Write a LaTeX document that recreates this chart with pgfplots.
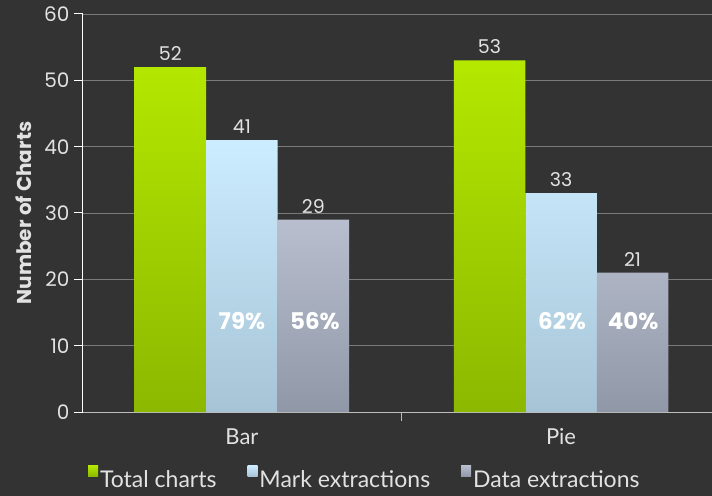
\documentclass[border=0pt]{standalone}
\usepackage{fontspec}
\setmainfont{Poppins}
\newfontfamily\legfont{Lato}
\usepackage{pgfplots}
\pgfplotsset{compat=1.18}
\usetikzlibrary{backgrounds}

\definecolor{bg}{HTML}{333333}
\definecolor{gridc}{HTML}{7A7A7A}
\definecolor{axc}{HTML}{BDBDBD}
\definecolor{txt}{HTML}{E2E2E2}
\definecolor{gtop}{HTML}{B4E800}
\definecolor{gbot}{HTML}{8CB800}
\definecolor{btop}{HTML}{CCECFF}
\definecolor{bbot}{HTML}{A6C4D6}
\definecolor{stop}{HTML}{B8BECE}
\definecolor{sbot}{HTML}{9098A8}

\newcommand{\fs}[1]{\fontsize{#1}{#1}\selectfont}

\begin{document}
\begin{tikzpicture}
\begin{axis}[
  at={(0,0)}, anchor=south west,
  scale only axis, width=629bp, height=398bp,
  xmin=-0.498, xmax=1.473, ymin=0, ymax=60,
  /pgf/number format/assume math mode=true,
  axis x line*=bottom, axis y line*=left,
  x axis line style={draw=axc, line width=1bp, -},
  y axis line style={draw=white, line width=1bp, -},
  ytick={0,10,...,60},
  ymajorgrids, grid style={draw=gridc, line width=0.8bp},
  ytick style={draw=white, line width=1bp},
  tick align=outside, major tick length=9bp,
  yticklabel style={font=\fs{20bp}, text=txt, xshift=-1bp},
  xtick={-0.5,0.5}, xticklabels={},
  xtick style={draw=axc, line width=1bp},
  extra x ticks={0,1}, extra x tick labels={Bar,Pie},
  extra x tick style={major tick length=0pt, grid=none,
     tick label style={font=\legfont\fs{22bp}, text=txt, yshift=-13bp}},
  ylabel={Number of Charts},
  every axis y label/.style={at={(axis description cs:0,0.5)}, xshift=-59bp,
     rotate=90, anchor=center, font=\bfseries\fs{20bp}, text=txt},
  ybar=0pt, bar width=71.5bp,
  nodes near coords,
  every node near coord/.append style={font=\fs{19bp}, text=txt, yshift=3bp},
  legend style={at={(axis description cs:0.448,-0.166)}, anchor=center,
     draw=none, fill=none, legend columns=-1, font=\legfont\fs{23bp}, text=txt,
     /tikz/every odd column/.append style={column sep=0bp},
     /tikz/every even column/.append style={column sep=29bp}},
  legend image code/.code={\fill[#1] (0bp,3bp) rectangle (10bp,14bp);},
]
\addplot[draw=none, top color=gtop, bottom color=gbot] coordinates {(0,52) (1,53)};
\addplot[draw=none, top color=btop, bottom color=bbot] coordinates {(0,41) (1,33)};
\addplot[draw=none, top color=stop, bottom color=sbot] coordinates {(0,29) (1,21)};
\legend{Total charts, Mark extractions, Data extractions}
\node[font=\bfseries\fs{23bp}, text=white] at (axis cs:0,13.7) {79\%};
\node[font=\bfseries\fs{23bp}, text=white, xshift=73bp] at (axis cs:0,13.7) {56\%};
\node[font=\bfseries\fs{23bp}, text=white, xshift=1bp] at (axis cs:1,13.7) {62\%};
\node[font=\bfseries\fs{23bp}, text=white, xshift=72bp] at (axis cs:1,13.7) {40\%};
\end{axis}
\begin{pgfonlayer}{background}
\fill[bg] (-83bp,-84bp) rectangle (629bp,412bp);
\end{pgfonlayer}
\pgfresetboundingbox
\path (-83bp,-84bp) rectangle (629bp,412bp);
\end{tikzpicture}
\end{document}
